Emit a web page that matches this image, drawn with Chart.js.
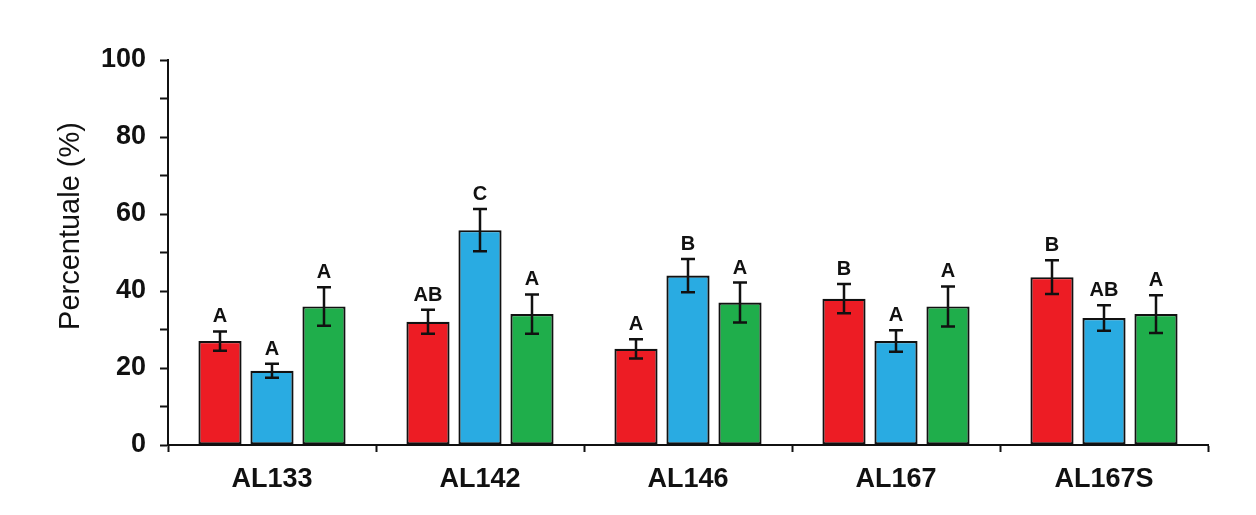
<!DOCTYPE html>
<html>
<head>
<meta charset="utf-8">
<script src="https://cdn.jsdelivr.net/npm/chart.js@4/dist/chart.umd.min.js"></script>
<style>
  html, body { margin: 0; padding: 0; background: #ffffff; }
  #wrap { width: 1256px; height: 515px; position: relative; }
</style>
</head>
<body>
<div id="wrap"><canvas id="c" width="1256" height="515"></canvas></div>
<script>
const categories = ['AL133', 'AL142', 'AL146', 'AL167', 'AL167S'];
const redValues   = [27.0, 32.0, 25.0, 38.0, 43.6];
const blueValues  = [19.3, 55.8, 44.0, 27.0, 33.0];
const greenValues = [36.0, 34.0, 37.0, 36.0, 34.0];
const redErrors   = [2.5, 3.1, 2.5, 3.8, 4.4];
const blueErrors  = [1.8, 5.5, 4.3, 2.8, 3.3];
const greenErrors = [5.0, 5.1, 5.2, 5.2, 4.9];
const redLetters   = ['A', 'AB', 'A', 'B', 'B'];
const blueLetters  = ['A', 'C', 'B', 'A', 'AB'];
const greenLetters = ['A', 'A', 'A', 'A', 'A'];
const yTickLabels = ['0', '20', '40', '60', '80', '100'];
const yTitle = 'Percentuale (%)';

const errorBarPlugin = {
  id: 'errorBars',
  afterDatasetsDraw(chart) {
    const ctx = chart.ctx;
    const y = chart.scales.y;
    chart.data.datasets.forEach((ds, di) => {
      const meta = chart.getDatasetMeta(di);
      meta.data.forEach((bar, i) => {
        const v = ds.data[i], e = ds.errors[i];
        const yTop = y.getPixelForValue(v + e);
        const yBot = y.getPixelForValue(v - e);
        const x = bar.x;
        const cap = 7;
        ctx.save();
        ctx.strokeStyle = '#111';
        ctx.lineWidth = 2.5;
        ctx.beginPath();
        ctx.moveTo(x, yTop); ctx.lineTo(x, yBot);
        ctx.moveTo(x - cap, yTop); ctx.lineTo(x + cap, yTop);
        ctx.moveTo(x - cap, yBot); ctx.lineTo(x + cap, yBot);
        ctx.stroke();
        ctx.fillStyle = '#111';
        ctx.font = 'bold 20px "Liberation Sans", Arial, sans-serif';
        ctx.textAlign = 'center';
        ctx.textBaseline = 'alphabetic';
        ctx.fillText(ds.letters[i], x, yTop - 9);
        ctx.restore();
      });
    });
  }
};

const yTitlePlugin = {
  id: 'yTitle',
  afterDraw(chart) {
    const ctx = chart.ctx;
    ctx.save();
    ctx.translate(71, 226);
    ctx.rotate(-Math.PI / 2);
    ctx.fillStyle = '#111';
    ctx.font = '29px "Liberation Sans", Arial, sans-serif';
    ctx.textAlign = 'center';
    ctx.textBaseline = 'middle';
    ctx.fillText(yTitle, 0, 0);
    ctx.restore();
  }
};

new Chart(document.getElementById('c'), {
  type: 'bar',
  data: {
    labels: categories,
    datasets: [
      { label: 'Rosso', data: redValues, errors: redErrors, letters: redLetters,
        backgroundColor: '#ED1C24', borderColor: '#111', borderWidth: 2.2, borderSkipped: false },
      { label: 'Azzurro', data: blueValues, errors: blueErrors, letters: blueLetters,
        backgroundColor: '#29ABE2', borderColor: '#111', borderWidth: 2.2, borderSkipped: false },
      { label: 'Verde', data: greenValues, errors: greenErrors, letters: greenLetters,
        backgroundColor: '#1FAE4B', borderColor: '#111', borderWidth: 2.2, borderSkipped: false }
    ]
  },
  options: {
    responsive: false,
    animation: false,
    categoryPercentage: 0.75,
    barPercentage: 0.83,
    layout: { padding: { left: 0, right: 48, top: 60, bottom: 0 } },
    plugins: { legend: { display: false }, tooltip: { enabled: false } },
    scales: {
      x: {
        offset: true,
        grid: { display: true, drawOnChartArea: false, offset: true, tickLength: 7, tickColor: '#111', tickWidth: 2 },
        border: { display: true, color: '#111', width: 2 },
        ticks: { color: '#111', padding: 11, font: { family: '"Liberation Sans", Arial, sans-serif', size: 27, weight: 'bold' } },
        afterFit(scale) { scale.height = 70; }
      },
      y: {
        min: 0, max: 100,
        grid: { display: true, drawOnChartArea: false, tickLength: 8, tickColor: '#111', tickWidth: 2 },
        border: { display: true, color: '#111', width: 2 },
        ticks: {
          stepSize: 10, autoSkip: false, color: '#111', padding: 14,
          font: { family: '"Liberation Sans", Arial, sans-serif', size: 27, weight: 'bold' },
          callback(value) { return value % 20 === 0 ? yTickLabels[value / 20] : ''; }
        },
        afterFit(scale) { scale.width = 168; }
      }
    }
  },
  plugins: [errorBarPlugin, yTitlePlugin]
});
</script>
</body>
</html>
